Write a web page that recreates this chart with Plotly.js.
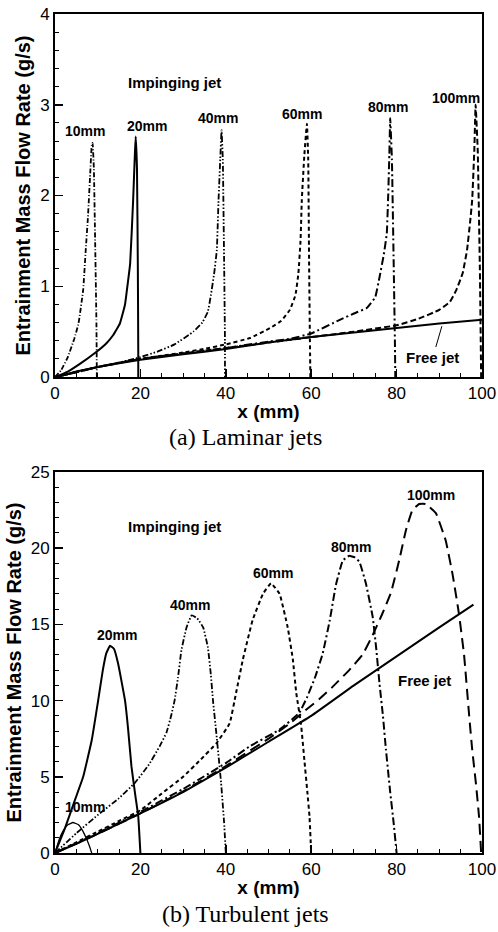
<!DOCTYPE html>
<html>
<head>
<meta charset="utf-8">
<script src="https://cdn.plot.ly/plotly-3.0.1.min.js"></script>
<style>
  html, body { margin: 0; padding: 0; background: #ffffff; }
  #chart { width: 498px; height: 932px; }
</style>
</head>
<body>
<div id="chart"></div>
<script>
// ---------- (a) Laminar jets: entrainment mass flow rate (g/s) vs x (mm) ----------
const lamFreeX = [0, 2, 5, 10, 20, 30, 40, 50, 60, 70, 80, 90, 100];
const lamFreeY = [0, 0.02, 0.06, 0.11, 0.19, 0.25, 0.31, 0.38, 0.44, 0.49, 0.54, 0.59, 0.63];

const lam10X = [0, 1.5, 3, 4.5, 5.5, 6.6, 7.2, 7.7, 8.2, 8.6, 8.8, 9.1, 9.4, 9.7, 9.8];
const lam10Y = [0, 0.08, 0.22, 0.42, 0.59, 0.96, 1.4, 1.75, 2.2, 2.55, 2.58, 2.3, 1.5, 0.6, 0];

const lam20X = [0, 3, 6, 9.5, 12, 13.6, 15.2, 16.4, 16.9, 17.6, 18.3, 18.7, 18.9, 19.2, 19.4, 19.5, 19.5];
const lam20Y = [0, 0.06, 0.15, 0.27, 0.37, 0.46, 0.59, 0.8, 0.98, 1.25, 1.95, 2.45, 2.65, 2.3, 1.2, 0.3, 0];

const lam40X = [0, 5, 10, 16, 20, 24, 28, 32.4, 34.5, 35.8, 36.5, 37.3, 37.9, 38.3, 38.7, 39, 39.3, 39.6, 39.8, 39.8];
const lam40Y = [0, 0.05, 0.11, 0.17, 0.22, 0.28, 0.36, 0.5, 0.6, 0.72, 0.9, 1.15, 1.4, 1.95, 2.4, 2.72, 2.4, 1.3, 0.4, 0];

const lam60X = [0, 10, 20, 30, 35, 40, 45.7, 50.4, 53, 55, 56.3, 57, 57.5, 57.8, 58.4, 59, 59.3, 59.5, 59.7, 59.8];
const lam60Y = [0, 0.11, 0.2, 0.27, 0.31, 0.36, 0.43, 0.54, 0.62, 0.74, 0.9, 1.14, 1.5, 1.95, 2.45, 2.79, 2.4, 1.3, 0.4, 0];

const lam80X = [0, 10, 20, 30, 40, 50, 55, 60, 66.7, 70, 73, 75, 76, 77, 77.7, 78, 78.3, 78.5, 78.9, 79.3, 79.6, 79.7];
const lam80Y = [0, 0.11, 0.2, 0.26, 0.32, 0.39, 0.42, 0.48, 0.63, 0.7, 0.76, 0.88, 1.1, 1.35, 1.58, 1.95, 2.45, 2.85, 2.4, 1.3, 0.4, 0];

const lam100X = [0, 10, 20, 30, 40, 50, 60, 70, 80, 85, 90, 92.5, 94, 95.5, 96.5, 97.2, 97.7, 98.2, 98.5, 99, 99.5, 99.8];
const lam100Y = [0, 0.11, 0.2, 0.26, 0.32, 0.38, 0.44, 0.5, 0.57, 0.64, 0.74, 0.83, 0.96, 1.15, 1.4, 1.7, 1.95, 2.5, 3.0, 2.5, 1.2, 0];

// ---------- (b) Turbulent jets ----------
const turbFreeX = [0, 5, 10, 20, 30, 40, 50, 60, 70, 80, 90, 98];
const turbFreeY = [0, 0.6, 1.25, 2.6, 4.0, 5.6, 7.3, 9.0, 11.0, 12.9, 14.8, 16.3];

const turb10X = [0, 1, 2, 3, 4.2, 5.5, 6.5, 7.5, 8.2, 8.6];
const turb10Y = [0, 0.9, 1.5, 1.85, 2.0, 1.85, 1.45, 0.85, 0.35, 0];

const turb20X = [0, 2.3, 4.7, 6.6, 8.6, 10.1, 11.2, 12.0, 12.9, 13.8, 14.8, 16.4, 17.1, 17.9, 18.8, 19.5, 19.9, 20];
const turb20Y = [0, 1.6, 3.5, 5.0, 7.4, 10.0, 12.0, 13.1, 13.6, 13.4, 12.4, 10.0, 8.2, 5.7, 3.8, 2.4, 0.5, 0];

const turb40X = [0, 5, 10.5, 15, 18.7, 22, 24.5, 26.1, 27.2, 28, 28.8, 29.6, 30.8, 32, 33.3, 34.7, 35.8, 36.5, 37, 37.8, 38.9, 39.6, 40];
const turb40Y = [0, 1.3, 2.6, 3.6, 4.6, 5.8, 7.0, 7.9, 9.0, 10.0, 11.5, 13.3, 14.8, 15.6, 15.4, 14.8, 13.5, 11.7, 10.0, 7.8, 4.6, 2.0, 0];

const turb60X = [0, 5, 10, 15, 20, 25, 30, 34, 37.8, 40.9, 42.4, 44, 46.3, 48.7, 50.6, 52.6, 54.5, 55.7, 56.5, 57.6, 58.4, 59.1, 59.6, 60];
const turb60Y = [0, 0.7, 1.4, 2.1, 2.8, 3.9, 5.0, 6.1, 7.2, 8.5, 10.5, 12.7, 15.3, 17.0, 17.7, 17.0, 14.8, 12.7, 10.5, 8.5, 6.1, 4.0, 2.4, 0];

const turb80X = [0, 10, 20, 30, 40, 45.6, 52.6, 57.2, 59, 61, 62.7, 64.3, 65.8, 67.4, 68.9, 70.2, 71.3, 72.8, 74.4, 75.2, 76, 76.8, 77.5, 78.5, 79.3, 80];
const turb80Y = [0, 1.3, 2.7, 4.2, 5.9, 7.0, 8.1, 9.2, 10.2, 11.6, 13.1, 15.2, 17.6, 19.2, 19.5, 19.4, 19.1, 17.7, 15.5, 13.5, 11.1, 9.0, 6.8, 4.0, 2.0, 0];

const turb100X = [0, 10, 20, 30, 40, 50, 55, 58.8, 61.9, 65, 68.9, 72, 74.4, 76.5, 78.7, 80.6, 82.2, 83.7, 85.3, 86.8, 89.2, 91.5, 93.1, 94.6, 95.8, 97, 97.7, 98.6, 99.3, 99.8];
const turb100Y = [0, 1.25, 2.6, 4.05, 5.7, 7.5, 8.5, 9.4, 10.1, 10.9, 12.0, 13.0, 14.3, 15.6, 17.1, 19.2, 21.2, 22.5, 22.9, 22.9, 22.3, 20.5, 18.3, 15.7, 13.0, 9.0, 6.8, 4.5, 2.4, 0];

// curve labels
const lamLabels = ['10mm', '20mm', '40mm', '60mm', '80mm', '100mm'];
const turbLabels = ['10mm', '20mm', '40mm', '60mm', '80mm', '100mm'];

const SANS = 'Liberation Sans, Arial, Helvetica, sans-serif';
const SERIF = 'Liberation Serif, Times New Roman, serif';

// line styles for the family of curves
const DASH = {
  solid: 'solid',
  dashDot: '5px,2px,1px,2px',
  dashDotDot: '6px,2px,1.5px,2px,1.5px,2px',
  shortDash: '4px,3px',
  longDashDot: '8px,3px,2px,3px',
  medDash: '6px,3px',
  longDash: '11px,6px'
};

function curve(x, y, ax, dash, width) {
  return {
    type: 'scatter', mode: 'lines', x: x, y: y,
    xaxis: ax[0], yaxis: ax[1],
    line: { color: '#000', width: width || 2, dash: dash, shape: 'spline', smoothing: 0.3 },
    hoverinfo: 'skip', showlegend: false
  };
}

const A = ['x', 'y'];
const B = ['x2', 'y2'];

const traces = [
  curve(lamFreeX, lamFreeY, A, DASH.solid, 2),
  curve(lam10X, lam10Y, A, DASH.dashDot, 1.8),
  curve(lam20X, lam20Y, A, DASH.solid, 2),
  curve(lam40X, lam40Y, A, DASH.dashDotDot, 1.8),
  curve(lam60X, lam60Y, A, DASH.shortDash, 2),
  curve(lam80X, lam80Y, A, DASH.longDashDot, 2),
  curve(lam100X, lam100Y, A, DASH.medDash, 2),

  curve(turbFreeX, turbFreeY, B, DASH.solid, 2),
  curve(turb10X, turb10Y, B, DASH.solid, 1.3),
  curve(turb20X, turb20Y, B, DASH.solid, 2),
  curve(turb40X, turb40Y, B, DASH.dashDotDot, 1.8),
  curve(turb60X, turb60Y, B, DASH.shortDash, 2),
  curve(turb80X, turb80Y, B, DASH.longDashDot, 2),
  curve(turb100X, turb100Y, B, DASH.longDash, 2)
];

function label(text, x, y, xr, yr, size) {
  return {
    text: '<b>' + text + '</b>', x: x, y: y, xref: xr, yref: yr,
    showarrow: false, xanchor: 'center', yanchor: 'middle',
    font: { family: SANS, size: size || 14, color: '#000' }
  };
}

const lamLabelPos = [[7, 2.71], [21.5, 2.77], [38.2, 2.85], [57.9, 2.9], [78, 2.98], [94, 3.07]];
const turbLabelPos = [[7, 3.0], [14.5, 14.3], [31.5, 16.3], [51, 18.4], [69.3, 20.1], [88, 23.5]];

const annotations = [];
annotations.push(label('Impinging jet', 28, 3.24, 'x', 'y', 15));
lamLabels.forEach((t, i) => annotations.push(label(t, lamLabelPos[i][0], lamLabelPos[i][1], 'x', 'y', 14)));
annotations.push({
  text: '<b>Free jet</b>', x: 90.6, y: 0.56, xref: 'x', yref: 'y',
  ax: 88.5, ay: 0.22, axref: 'x', ayref: 'y',
  showarrow: true, arrowhead: 0, arrowwidth: 1, arrowcolor: '#000',
  font: { family: SANS, size: 15, color: '#000' }
});

annotations.push(label('Impinging jet', 28, 21.4, 'x2', 'y2', 15));
turbLabels.forEach((t, i) => annotations.push(label(t, turbLabelPos[i][0], turbLabelPos[i][1], 'x2', 'y2', 14)));
annotations.push(label('Free jet', 86.5, 11.3, 'x2', 'y2', 15));

// panel captions
annotations.push({
  text: '(a) Laminar jets', x: 0.447, y: 0.4958, xref: 'paper', yref: 'paper',
  showarrow: false, xanchor: 'center', yanchor: 'middle',
  font: { family: SERIF, size: 24, color: '#000' }
});
annotations.push({
  text: '(b) Turbulent jets', x: 0.447, y: -0.0727, xref: 'paper', yref: 'paper',
  showarrow: false, xanchor: 'center', yanchor: 'middle',
  font: { family: SERIF, size: 24, color: '#000' }
});

function xAxis(anchor) {
  return {
    anchor: anchor, domain: [0, 1], range: [0, 100],
    tick0: 0, dtick: 20, ticks: 'inside', ticklen: 8, tickwidth: 1.5, tickcolor: '#000',
    minor: { tick0: 0, dtick: 5, ticks: 'inside', ticklen: 4, tickwidth: 1, tickcolor: '#000', showgrid: false },
    showline: true, linewidth: 2, linecolor: '#000', mirror: true,
    showgrid: false, zeroline: false,
    tickfont: { family: SANS, size: 17, color: '#000' },
    title: { text: '<b>x (mm)</b>', font: { family: SANS, size: 19, color: '#000' }, standoff: 2 }
  };
}
function yAxis(anchor, domain, max, major, minorStep) {
  return {
    anchor: anchor, domain: domain, range: [0, max],
    tick0: 0, dtick: major, ticks: 'inside', ticklen: 8, tickwidth: 1.5, tickcolor: '#000',
    minor: { tick0: 0, dtick: minorStep, ticks: 'inside', ticklen: 4, tickwidth: 1, tickcolor: '#000', showgrid: false },
    showline: true, linewidth: 2, linecolor: '#000', mirror: true,
    showgrid: false, zeroline: false,
    tickfont: { family: SANS, size: 17, color: '#000' },
    title: { text: '<b>Entrainment Mass Flow Rate (g/s)</b>', font: { family: SANS, size: 20, color: '#000' }, standoff: 4 }
  };
}

const layout = {
  width: 498, height: 932,
  margin: { l: 55, r: 16, t: 14, b: 79 },
  paper_bgcolor: '#fff', plot_bgcolor: '#fff',
  showlegend: false,
  xaxis: xAxis('y'),
  yaxis: yAxis('x', [0.5673, 1], 4, 1, 0.2),
  xaxis2: xAxis('y2'),
  yaxis2: yAxis('x2', [0, 0.4541], 25, 5, 1),
  annotations: annotations
};

Plotly.newPlot('chart', traces, layout, { staticPlot: true, displayModeBar: false });
</script>
</body>
</html>
